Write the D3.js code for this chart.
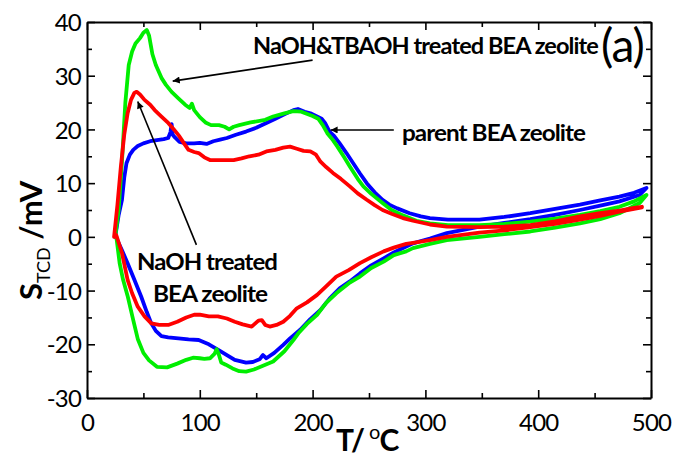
<!DOCTYPE html>
<html>
<head>
<meta charset="utf-8">
<script src="https://cdn.jsdelivr.net/npm/d3@7/dist/d3.min.js"></script>
<style>
  html, body { margin: 0; padding: 0; background: #fff; }
  svg { display: block; }
  text { font-family: Lato, "Open Sans", sans-serif; fill: #000; }
</style>
</head>
<body>
<svg id="chart" width="674" height="462"></svg>
<script>
// ---------------- data ----------------
const xTicks = [0, 100, 200, 300, 400, 500];
const xMinorTicks = [50, 150, 250, 350, 450];
const yTicks = [-30, -20, -10, 0, 10, 20, 30, 40];
const yMinorTicks = [-25, -15, -5, 5, 15, 25, 35];
const xTickLabels = ["0", "100", "200", "300", "400", "500"];
const yTickLabels = ["-30", "-20", "-10", "0", "10", "20", "30", "40"];

const seriesNames = ["parent BEA zeolite", "NaOH&TBAOH treated BEA zeolite", "NaOH treated BEA zeolite"];
const seriesColors = ["#0000ff", "#00ee00", "#ff0000"];

// parent BEA zeolite (blue): heating branch, then return branch  [T, S]
const parentUpper = [[25,0],[28,4],[31,6.9],[33,11],[35,13.7],[38,15.3],[41,16.2],[45,16.9],[50,17.4],[56,17.8],[62,18],[68,18.2],[72,18.4],[74,19.5],[75,21],[76,19],[78,18.5],[82,17.7],[88,17.4],[95,17.4],[100,17.5],[106,17.3],[112,17.8],[118,18.1],[124,18.4],[132,19],[141,19.6],[150,20.3],[159,21.2],[167,22],[175,22.8],[183,23.6],[187,23.8],[193,23.3],[198,23],[203,22.5],[208,22],[211,21.2],[215,19.6],[219,18.8],[224,17.4],[230,15.6],[236,13.7],[242,11.8],[248,10],[255,8.3],[262,6.9],[268,6],[275,5.3],[286,4.4],[296,3.8],[304,3.5],[320,3.2],[348,3.2],[370,3.7],[393,4.4],[415,5.2],[437,6],[455,6.8],[472,7.5],[485,8.2],[496,9.1]];
const parentLower = [[496,9.1],[490,7.8],[472,6.6],[455,5.8],[437,5.0],[415,4.1],[393,3.3],[370,2.6],[348,1.9],[319,0.7],[304,-0.3],[289,-1.2],[283,-1.8],[272,-2.9],[263,-4.0],[252,-5.3],[242,-6.8],[233,-8.3],[224,-9.6],[215,-11.5],[207,-13.6],[198,-15.3],[189,-17.3],[180,-18.9],[174,-20.1],[166,-21.6],[159,-22.6],[156,-22],[153,-22.8],[147,-23.3],[141,-23.4],[131,-22.9],[124,-22],[116,-21],[108,-20],[99,-19.2],[90,-19.1],[81,-18.9],[72,-18.7],[66,-18.5],[61,-17.5],[57,-16.1],[53,-14],[48,-11.1],[42,-8],[36,-4.9],[31,-2.5],[26,-0.2]];

// NaOH&TBAOH treated BEA zeolite (green)
const tbaohUpper = [[25,0],[28,5],[31,14],[34,25],[37,32],[40,34.5],[43,36],[47,37],[50,38],[53,38.5],[55,37.5],[58,34],[61,32],[66,29.6],[70,28.3],[75,27],[81,25.8],[87,24.6],[91,24],[93,24.8],[95,23.6],[100,22.3],[105,21.3],[110,20.8],[117,20.8],[122,20.5],[126,20],[130,20.5],[135,20.8],[145,21.3],[158,21.8],[165,22.4],[175,23],[183,23.4],[190,23.3],[200,22.5],[205,22],[209,20.8],[213,19.3],[218,18],[222,16.8],[228,14.8],[233,13.1],[240,10.8],[245,9.4],[252,8],[262,6.3],[270,5],[280,4],[292,3],[304,2.5],[320,2.2],[348,2.2],[370,2.4],[393,2.85],[415,3.4],[437,4.1],[455,4.8],[472,5.6],[485,6.6],[496,7.8]];
const tbaohLower = [[496,7.8],[490,6.3],[472,4.4],[455,3.3],[437,2.5],[415,1.7],[393,1.0],[370,0.5],[348,0],[319,-0.6],[304,-1.3],[289,-2.1],[283,-2.7],[272,-3.4],[263,-4.6],[252,-5.8],[242,-7.4],[233,-8.5],[221,-10.5],[212,-12.3],[204,-14.5],[195,-16.2],[188,-17.8],[183,-19.2],[175,-21.3],[165,-23.2],[156,-24],[148,-24.7],[141,-25.1],[135,-25],[129,-24.5],[123,-23.8],[119,-23.4],[117,-22],[115,-20.9],[113,-21.8],[109,-22.6],[104,-22.7],[100,-22.6],[94,-22.5],[88,-22.9],[80,-23.6],[71,-24.3],[62,-24.2],[55,-23],[50,-21.6],[45,-19],[41,-15.5],[36,-11],[32,-8],[29,-5],[26,0]];

// NaOH treated BEA zeolite (red)
const naohUpper = [[24,0],[27,6],[30,13],[33,19],[36,23],[39,25.5],[42,26.8],[44,27],[47,26.5],[51,25.5],[56,24.6],[60,23.6],[66,22.4],[72,21.2],[77,20],[82,18.7],[86,17.4],[90,16.2],[95,15.8],[99,15.6],[104,14.8],[109,14.3],[117,14.3],[124,14.3],[130,14.3],[137,14.6],[144,15],[152,15.3],[159,15.9],[167,16.2],[174,16.6],[180,16.8],[186,16.4],[192,16],[198,15.9],[203,15.3],[207,14],[212,13],[218,11.9],[225,10.8],[233,9.4],[240,8.1],[248,6.9],[255,5.9],[262,5.0],[270,4.3],[280,3.5],[289,3.0],[304,2.3],[319,1.9],[348,1.8],[370,1.9],[393,2.2],[415,2.9],[437,3.8],[455,4.4],[472,4.9],[485,5.4],[492,5.6]];
const naohLower = [[492,5.5],[485,5.2],[472,4.7],[455,3.9],[437,3.2],[415,2.4],[393,1.8],[370,1.2],[348,0.8],[319,0],[304,-0.6],[289,-1.1],[283,-1.3],[272,-2],[263,-2.7],[252,-3.8],[242,-4.9],[232,-6.2],[221,-7.4],[212,-9.2],[204,-10.8],[195,-12.2],[186,-13.3],[180,-14.7],[174,-15.8],[168,-16.4],[162,-16.7],[158,-16.4],[155,-15.5],[152,-15.6],[146,-16.7],[138,-16.3],[131,-15.8],[124,-15.2],[116,-14.8],[108,-14.8],[100,-14.5],[95,-14.5],[88,-15.0],[80,-15.8],[72,-16.4],[64,-16.4],[57,-16.1],[51,-14.8],[45,-13],[40,-10.5],[36,-8],[31,-3],[26,0.3]];

// annotation arrows: [fromT, fromS, toT, toS]
const arrowTbaoh  = [200, 32.9, 76, 29.0];
const arrowParent = [272, 19.9, 216, 19.9];
const arrowNaoh   = [97, -1.5, 45, 25.2];

// ---------------- drawing ----------------
const svg = d3.select("#chart");
const L = 87, R = 651, T = 22, B = 398;
const x = d3.scaleLinear().domain([0, 500]).range([L, R]);
const y = d3.scaleLinear().domain([-30, 40]).range([B, T]);

svg.append("defs").append("marker")
  .attr("id", "ah").attr("viewBox", "0 0 10 10")
  .attr("refX", 10).attr("refY", 5)
  .attr("markerWidth", 13).attr("markerHeight", 7)
  .attr("markerUnits", "userSpaceOnUse")
  .attr("orient", "auto")
  .append("path").attr("d", "M0,0 L10,5 L0,10 Z").attr("fill", "#000");

// curves
const line = d3.line().x(d => x(d[0])).y(d => y(d[1])).curve(d3.curveLinear);
const loops = [parentUpper.concat(parentLower), tbaohUpper.concat(tbaohLower), naohUpper.concat(naohLower)];
const g = svg.append("g");
loops.forEach((pts, i) => {
  g.append("path").attr("d", line(pts))
    .attr("fill", "none").attr("stroke", seriesColors[i])
    .attr("stroke-width", 3.8).attr("stroke-linejoin", "round").attr("stroke-linecap", "round");
});

// axes (ticks inward on all sides)
function styleAxis(sel) {
  sel.selectAll("path.domain").attr("stroke", "#000").attr("stroke-width", 2);
  sel.selectAll(".tick line").attr("stroke", "#000").attr("stroke-width", 1.6);
  sel.selectAll("text").attr("font-size", 24).attr("letter-spacing", -0.8)
    .attr("font-family", "Lato, sans-serif").attr("fill", "#000");
}
const xb = svg.append("g").attr("transform", `translate(0,${B})`)
  .call(d3.axisBottom(x).tickValues(xTicks).tickSizeInner(-8).tickSizeOuter(0).tickPadding(16)
    .tickFormat((d, i) => xTickLabels[i]));
styleAxis(xb);
const xbm = svg.append("g").attr("transform", `translate(0,${B})`)
  .call(d3.axisBottom(x).tickValues(xMinorTicks).tickSizeInner(-5).tickSizeOuter(0).tickFormat(""));
styleAxis(xbm); xbm.select(".domain").remove();

const xt = svg.append("g").attr("transform", `translate(0,${T})`)
  .call(d3.axisTop(x).tickValues(xTicks).tickSizeInner(-8).tickSizeOuter(0).tickFormat(""));
styleAxis(xt);
const xtm = svg.append("g").attr("transform", `translate(0,${T})`)
  .call(d3.axisTop(x).tickValues(xMinorTicks).tickSizeInner(-5).tickSizeOuter(0).tickFormat(""));
styleAxis(xtm); xtm.select(".domain").remove();

const yl = svg.append("g").attr("transform", `translate(${L},0)`)
  .call(d3.axisLeft(y).tickValues(yTicks).tickSizeInner(-8).tickSizeOuter(0).tickPadding(6)
    .tickFormat((d, i) => yTickLabels[i]));
styleAxis(yl);
yl.selectAll("text").attr("dy", "0.36em");
const ylm = svg.append("g").attr("transform", `translate(${L},0)`)
  .call(d3.axisLeft(y).tickValues(yMinorTicks).tickSizeInner(-5).tickSizeOuter(0).tickFormat(""));
styleAxis(ylm); ylm.select(".domain").remove();

const yr = svg.append("g").attr("transform", `translate(${R},0)`)
  .call(d3.axisRight(y).tickValues(yTicks).tickSizeInner(-8).tickSizeOuter(0).tickFormat(""));
styleAxis(yr);
const yrm = svg.append("g").attr("transform", `translate(${R},0)`)
  .call(d3.axisRight(y).tickValues(yMinorTicks).tickSizeInner(-5).tickSizeOuter(0).tickFormat(""));
styleAxis(yrm); yrm.select(".domain").remove();

// axis titles
const xTitle = svg.append("text").attr("x", 336).attr("y", 451)
  .attr("font-size", 30).attr("font-weight", "bold").attr("letter-spacing", -1);
xTitle.append("tspan").text("T/");
xTitle.append("tspan").attr("font-size", 20).attr("dx", 5).attr("dy", -12).attr("font-weight", "normal").text("o");
xTitle.append("tspan").attr("dy", 12).text("C");

const yTitle = svg.append("text")
  .attr("transform", "translate(42,300) rotate(-90)")
  .attr("font-size", 31).attr("font-weight", "bold");
yTitle.append("tspan").text("S");
yTitle.append("tspan").attr("font-size", 18).attr("font-weight", "normal").attr("dy", 8).text("TCD");
yTitle.append("tspan").attr("dy", -8).text(" /mV");

// annotations
function arrow(a) {
  svg.append("line")
    .attr("x1", x(a[0])).attr("y1", y(a[1])).attr("x2", x(a[2])).attr("y2", y(a[3]))
    .attr("stroke", "#000").attr("stroke-width", 1.6).attr("marker-end", "url(#ah)");
}
arrow(arrowTbaoh); arrow(arrowParent); arrow(arrowNaoh);

function label(txt, px, py, size, w) {
  svg.append("text").attr("x", px).attr("y", py).attr("font-size", size)
    .attr("font-weight", "bold").attr("letter-spacing", -0.9)
    .attr("textLength", w).attr("lengthAdjust", "spacingAndGlyphs").text(txt);
}
label("NaOH&TBAOH treated BEA zeolite", 253, 54, 23, 345);
label("parent BEA zeolite", 402, 141, 23, 183);
label("NaOH treated", 137, 270, 23, 140);
label("BEA zeolite", 153, 302, 23, 114);

svg.append("text").attr("x", 601).attr("y", 62).attr("font-size", 46)
  .attr("letter-spacing", -1).text("(a)");
</script>
</body>
</html>
